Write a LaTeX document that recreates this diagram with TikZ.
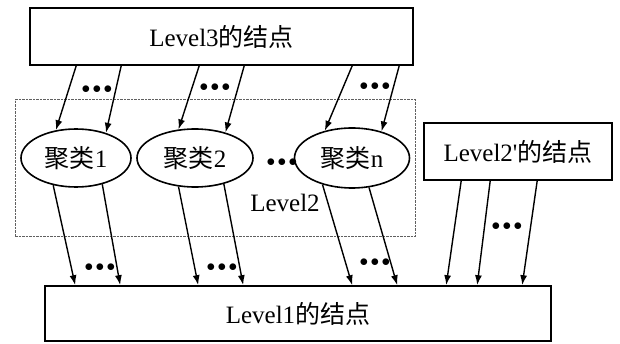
\documentclass[tikz,border=0pt]{standalone}
\usepackage{fontspec}
\setmainfont{Liberation Serif}
\newfontfamily\cjk{Noto Sans CJK SC}
\usetikzlibrary{arrows.meta,shapes.geometric}
\newcommand{\bigdots}{$\bullet\mkern-1.5mu\bullet\mkern-1.5mu\bullet$}
\begin{document}
\begin{tikzpicture}[x=1pt,y=-1pt,
  font=\fontsize{25}{29}\selectfont,
  box/.style={draw, line width=1.6pt, inner sep=0pt},
  cluster/.style={draw, ellipse, line width=1.6pt, inner sep=0pt, minimum width=110pt, minimum height=58pt},
  arr/.style={-{Latex[length=10pt,width=7pt]}, line width=1.4pt},
  dotsnode/.style={font=\fontsize{19}{19}\selectfont, inner sep=0pt}]
% Define colors
\definecolor{colordash}{HTML}{606060}
\useasboundingbox (0,0) rectangle (620,344);
  % Define nodes
  \node[box, minimum width=383pt, minimum height=57pt] (A) at (221.5,36.5) {Level3{\cjk 的结点}};
  \node[draw=colordash, dash pattern=on 2.5pt off 1pt, line width=1pt, minimum width=400pt, minimum height=137pt] (B) at (215,168.5) {};
  \node[cluster] (C1) at (76,158) {{\cjk 聚类}1};
  \node[cluster, minimum width=116pt] (C2) at (195,158) {{\cjk 聚类}2};
  \node[cluster, minimum width=115pt, minimum height=60pt] (C3) at (352,158) {{\cjk 聚类}n};
  \node (L2) at (285,203) {Level2};
  \node[box, minimum width=188pt, minimum height=57pt] (D) at (518,151.5) {Level2\textquotesingle{\cjk 的结点}};
  \node[box, minimum width=506pt, minimum height=55pt] (E) at (298,313.5) {Level1{\cjk 的结点}};
  %Marks
  \foreach \px/\py in {97/90, 215/88, 375/87, 282/163, 507/227, 100/268, 222/268, 375/263}
    \node[dotsnode] at (\px,\py) {\bigdots};
  % Draw arrows
  \draw[arr] ([xshift=47pt]A.south west) -- (C1.126);
  \draw[arr] ([xshift=92pt]A.south west) -- (C1.40);
  \draw[arr] ([xshift=170pt]A.south west) -- (C2.120);
  \draw[arr] ([xshift=215pt]A.south west) -- (C2.40);
  \draw[arr] ([xshift=323pt]A.south west) -- (C3.135);
  \draw[arr] ([xshift=370pt]A.south west) -- (C3.42);
  \draw[arr] (C1.230) -- ([xshift=31pt]E.north west);
  \draw[arr] (C1.315) -- ([xshift=76pt]E.north west);
  \draw[arr] (C2.240) -- ([xshift=154pt]E.north west);
  \draw[arr] (C2.318) -- ([xshift=199pt]E.north west);
  \draw[arr] (C3.222) -- ([xshift=308pt]E.north west);
  \draw[arr] (C3.300) -- ([xshift=353pt]E.north west);
  \draw[arr] ([xshift=38pt]D.south west) -- ([xshift=402pt]E.north west);
  \draw[arr] ([xshift=67pt]D.south west) -- ([xshift=433pt]E.north west);
  \draw[arr] ([xshift=114pt]D.south west) -- ([xshift=478pt]E.north west);
\end{tikzpicture}
\end{document}
